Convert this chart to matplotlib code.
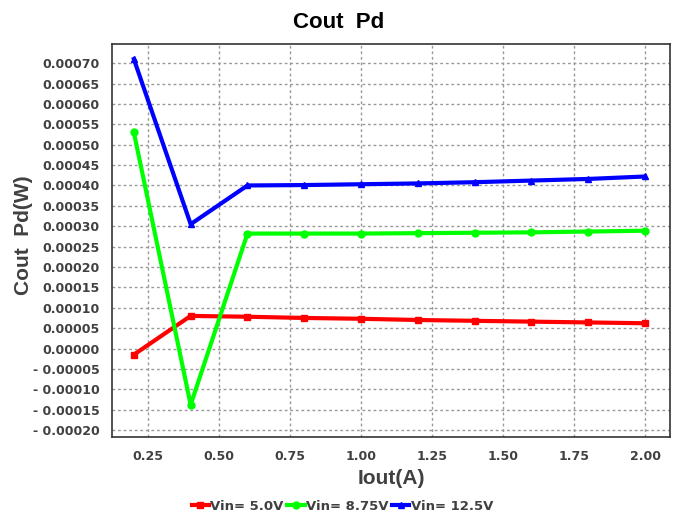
import matplotlib.pyplot as plt
from matplotlib.ticker import FuncFormatter, MultipleLocator

plt.rcParams['font.family'] = ['Liberation Sans', 'DejaVu Sans']

iout = [0.2, 0.4, 0.6, 0.8, 1.0, 1.2, 1.4, 1.6, 1.8, 2.0]
pd_5v = [-0.000015, 0.000080, 0.000078, 0.000075, 0.000073, 0.000070,
         0.000068, 0.000066, 0.000064, 0.000062]
pd_875v = [0.000530, -0.000138, 0.000282, 0.000282, 0.000282, 0.000283,
           0.000284, 0.000285, 0.000287, 0.000289]
pd_125v = [0.000710, 0.000305, 0.000400, 0.000401, 0.000403, 0.000405,
           0.000408, 0.000412, 0.000416, 0.000422]
labels = ["Vin= 5.0V", "Vin= 8.75V", "Vin= 12.5V"]

tick_color = "#404040"
tick_font = {"family": "DejaVu Sans", "weight": "bold", "size": 9}

fig = plt.figure(figsize=(6.78, 5.17), dpi=100)
ax = fig.add_axes([112/678, 1-437/517, 558/678, 393/517])

ax.plot(iout, pd_5v, color="red", lw=3, marker="s", ms=5, label=labels[0])
ax.plot(iout, pd_875v, color="#00ff00", lw=3, marker="o", ms=5, label=labels[1])
ax.plot(iout, pd_125v, color="blue", lw=3, marker="^", ms=5, label=labels[2])

ax.set_xlim(0.123, 2.088)
ax.set_ylim(-0.000217, 0.000747)
ax.xaxis.set_major_locator(MultipleLocator(0.25))
ax.yaxis.set_major_locator(MultipleLocator(0.00005))

def yfmt(v, pos):
    if v > 0.000701:
        return ""
    s = "%.5f" % abs(v)
    if v < -1e-9:
        return "- " + s
    return s

ax.yaxis.set_major_formatter(FuncFormatter(yfmt))
ax.xaxis.set_major_formatter(FuncFormatter(lambda v, p: "%.2f" % v))

ax.grid(True, color="#999999", linestyle=(0, (2, 2)), linewidth=1)
ax.tick_params(length=0, labelcolor=tick_color, pad=9)
for lab in ax.get_xticklabels() + ax.get_yticklabels():
    lab.set_fontproperties(tick_font)
for sp in ax.spines.values():
    sp.set_color("#333333")
    sp.set_linewidth(1.2)

fig.text(0.5, 1 - 22/517, "Cout  Pd", fontsize=16, fontweight="bold", ha="center", va="center")
ax.set_xlabel("Iout(A)", fontsize=15, fontweight="bold", color=tick_color, labelpad=5)
ax.set_ylabel("Cout  Pd(W)", fontsize=15, fontweight="bold", color=tick_color)
ax.yaxis.set_label_coords(-0.142, 0.514)

leg = fig.legend(loc="lower center", bbox_to_anchor=(0.505, -0.015), ncol=3, frameon=False,
                 handlelength=1.3, handletextpad=0.1, columnspacing=0.3,
                 prop={"family": "DejaVu Sans", "weight": "bold", "size": 9.5})
for t in leg.get_texts():
    t.set_color(tick_color)

fig.savefig("out.png", dpi=100)
